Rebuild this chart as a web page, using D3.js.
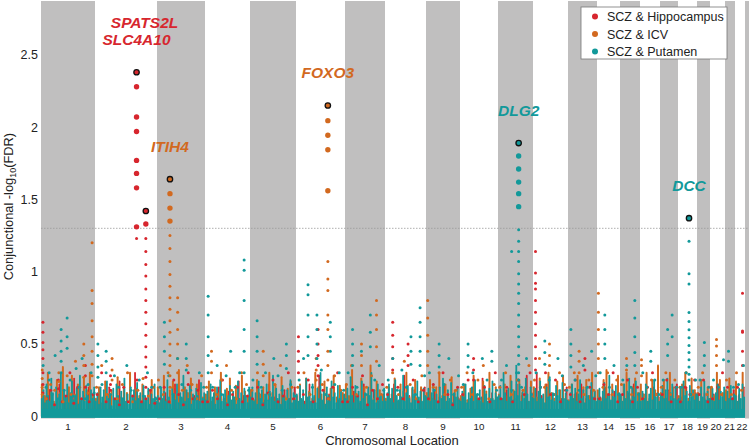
<!DOCTYPE html>
<html><head><meta charset="utf-8">
<script src="https://cdn.jsdelivr.net/npm/d3@7/dist/d3.min.js"></script>
<style>body{margin:0;background:#fff}svg{display:block;font-family:Arial,"Liberation Sans",Helvetica,sans-serif}</style>
</head><body><svg id="c" width="750" height="447"></svg>
<script>
// ---------------- DATA ----------------
const chromosomes = ["1","2","3","4","5","6","7","8","9","10","11","12","13","14","15","16","17","18","19","20","21","22"];
// relative chromosome widths on the axis (SNP count units)
const chromWeight = [54,62,48,45,46,49,40,41,34,38,35,35,29,23,20,20,18,19,13,15,10,10];
const tailWeight = 4;
const seriesNames = ["SCZ & Hippocampus","SCZ & ICV","SCZ & Putamen"];
const seriesColors = ["#d7262e","#d2691f","#12999a"];
const yTicks = [0,0.5,1,1.5,2,2.5];
const threshold = 1.3;
const tealBase = 0.05;

// background points per chromosome; a nested array = several SNPs at the same locus
const hippocampus = [
 [[.65,.58,.51,.46,.40,.30,.22,.16],.12,.18,.08,[.25,.19],.1,.14,.3,.09,.2,.12,[.35,.28,.2],.1,.15],
 [.15,.3,.1,[.28,.22,.18],.12,.08,.2,.1,.14,.25,.1,.12,.18,.09],
 [.12,.2,.1,.25,.15,.08,[.3,.22],.12,.18,.1],
 [.1,.18,.12,.25,.08,.15,.2,.1,.14],
 [.12,.2,.08,.16,.25,.1,.14,.3,.12],
 [[.55,.45,.38,.3],.15,.25,.1,[.6,.5,.42,.35,.28],.18,.12,.2,.3,.1],
 [.1,.2,.14,.28,.08,.18,.12,.22],
 [.15,[.65,.56,.48,.4,.32],.2,.12,[.5,.42,.35],.25,.1,.18],
 [.12,.22,.1,.3,.15,.08,.2],
 [.15,.25,[.4,.32,.25],.12,.2,.1,.3],
 [.12,.2,.1,.25,.15,.3],
 [[1.14,.99,.92,.88,.8,.72,.64,.56,.48,.4,.32],.2,.3,.15,.25,.1,.18],
 [.15,.25,.1,[.4,.32],.2,.12],
 [.12,.22,.15,.3,.1],
 [.15,.25,.1,.2],
 [.12,.2,.3,.15],
 [.15,.25,.1,.2],
 [.1,.2,.15,.25],
 [.15,.25,.1],
 [.12,.2,.3],
 [.2,.12],
 [.2,[.85,.59,.58,.45,.35]]
];
const icv = [
 [[.32,.26,.2,.15],.12,.22,.18,[.3,.24],.1,.28,.15,.38,.2,[.5,.42,.35,.27],.16,[1.2,.87,.78,.66,.55,.45,.36,.28]],
 [.2,.35,.15,[.4,.32,.25],.12,.22,.3,.1,.18,.26,.14,.2],
 [.25,.15,.3,.2,[.82,.72,.6,.5,.4,.3],.18,.35,.22,.12,.28],
 [.2,[.45,.38,.3],.15,.25,.35,.18,.12,.3,.22],
 [.18,.3,[.45,.36,.28],.15,.22,.35,.12,.2],
 [.2,.3,.15,[.4,.32,.25],.22,.12,.28,.18],
 [.22,.35,.15,[.5,.42,.35],.2,.28,[.8,.7,.6,.48,.38],.15],
 [.2,.3,.15,.38,.22,.12,.28],
 [[.8,.68,.56,.45,.35],.2,.3,.15,.25,.18],
 [.2,.3,.15,.25,.35,.12,.22],
 [.2,.3,.15,.25,.18,.35],
 [.25,.4,.2,[.5,.42,.35],.15,.3,.22],
 [.2,.3,[.45,.38,.3],.15,.25,.18],
 [[.85,.72,.6,.5,.4,.3],.2,.3,.15,.25],
 [.22,[.4,.32],.15,.3],
 [[.39,.35,.28],.2,.25,.15],
 [.2,.3,.15,.25],
 [.2,.3,.15],
 [.2,.3,.15],
 [.2,[.53,.485,.42,.35],.15],
 [.25,.15],
 [.3,.18]
];
const putamen = [
 [.35,.2,[.3,.25],.15,.42,.12,[.6,.52,.45,.38,.3],.18,[.68,.55,.47],.25,.14,.33,.2,.4,.12,.22,.3,.16],
 [[.5,.42,.34,.27],.22,[.45,.38,.3],.15,.28,.2,.12,.35,.18,.1,.25,.14,.3,.2,.12],
 [.2,[.65,.55,.45,.36],.28,.15,.4,.22,[.5,.4,.32],.18,.12,.3,.2],
 [[.83,.7,.55,.42,.3],.2,.35,.15,.28,.45,.2,.3,[1.08,1.01,.8,.6,.45,.3],.18],
 [.25,[.66,.55,.45,.36],.2,.3,.15,.4,.28,.18,[.5,.42,.33],.22,.14],
 [.25,.4,[.91,.84,.7,.55,.42],.2,[.7,.6,.5,.4],.32,.15,[.65,.55,.45],.22,.3,.18],
 [.3,[.6,.5,.42,.35],.2,.45,.15,[.7,.58,.48],.25,.35,.18],
 [.25,.4,.18,.32,.2,[.55,.45,.36],.15,[.75,.65,.55,.45,.35],.28],
 [.3,.18,[.5,.42,.34],.22,.4,.15,.28],
 [.22,[.5,.42,.34],.3,.15,.4,.25,[.45,.38],.18],
 [.25,.35,.18,.3,.2,.4,.15],
 [.3,.2,[.52,.44,.36],.25,.15,.4,.28,.18],
 [[.6,.5,.42,.34],.25,.18,.35,.2,.45,.28],
 [.3,[.7,.6,.5,.4],.2,.35,.15],
 [.25,.35,.2,[.8,.68,.55,.44,.35],.15],
 [.3,.2,[.45,.38],.25,.15],
 [.25,[.6,.5,.42],[.7,.55],.2],
 [.2,.3,.15,.25],
 [.25,[.51,.42,.35],.2],
 [.25,.2,.39],
 [[.45,.38],.2],
 [.22,.35]
];
// dense low-level SNP stacks (drawn as spikes from 0)
const hippocampusSpikes = [
 [.12,.18,.08,.22,.1,.15,.26,.09,.14,.2,.11],
 [.14,.08,.2,.11,.24,.1,.16,.3,.12,.09,.18,.13],
 [.1,.16,.09,.22,.12,.18,.08,.14,.25,.11],
 [.13,.09,.2,.12,.17,.1,.24,.14,.09],
 [.09,.16,.11,.22,.13,.08,.18,.12,.2],
 [.16,.1,.22,.13,.28,.09,.15,.2,.11,.14],
 [.11,.17,.09,.22,.13,.18,.1,.15],
 [.13,.22,.1,.28,.14,.18,.09,.2],
 [.1,.17,.13,.22,.09,.15,.12],
 [.15,.1,.2,.12,.26,.09,.16,.13],
 [.12,.18,.1,.22,.14,.28,.16],
 [.3,.14,.22,.1,.18,.12,.2],
 [.1,.16,.22,.12,.18,.09],
 [.13,.2,.1,.17,.12],
 [.1,.16,.22,.12],
 [.15,.1,.2,.13],
 [.11,.18,.14,.22],
 [.13,.2,.1,.16],
 [.1,.16,.12],
 [.15,.22,.11],
 [.12,.18],
 [.14,.2]
];
const icvSpikes = [
 [.22,.14,.3,.18,.1,.25,.16,.34,.12,.2,.28,.15,.22,.1,.26,.18,.3,.14],
 [.12,.2,.09,.24,.15,.18,.1,.27,.13,.2,.16,.3,.11,.19,.14,.22,.1,.17,.25,.12],
 [.2,.14,.28,.11,.18,.24,.15,.32,.12,.2,.16,.26,.1,.22,.18,.13],
 [.15,.24,.1,.2,.16,.3,.12,.19,.26,.14,.21,.1,.28,.17,.13],
 [.18,.11,.25,.15,.2,.12,.3,.16,.22,.1,.27,.14,.19,.24,.12],
 [.14,.22,.11,.26,.17,.12,.3,.2,.15,.24,.1,.19,.28,.13,.21,.16],
 [.22,.14,.32,.17,.11,.26,.2,.15,.35,.12,.24,.18,.14],
 [.12,.2,.15,.26,.1,.22,.17,.3,.13,.19,.25,.11,.2,.16],
 [.16,.25,.12,.2,.3,.14,.22,.1,.27,.18,.13],
 [.14,.22,.11,.19,.28,.15,.1,.24,.17,.3,.12,.2],
 [.15,.11,.22,.14,.28,.18,.12,.25,.16,.2,.1,.24],
 [.2,.13,.26,.11,.22,.3,.16,.12,.24,.18,.28,.14],
 [.11,.22,.15,.28,.12,.2,.25,.14,.3,.17],
 [.18,.12,.25,.32,.15,.22,.11,.28],
 [.14,.22,.3,.12,.2,.26,.16],
 [.22,.15,.3,.12,.25,.18,.35],
 [.16,.25,.12,.3,.2,.14],
 [.14,.22,.3,.12,.26,.18],
 [.16,.25,.12,.2],
 [.2,.14,.3,.25,.16],
 [.18,.26,.12],
 [.24,.15,.3]
];
const putamenSpikes = [
 [.12,.18,.09,.22,.14,.1,.26,.16,.08,.2,.12,.15,.3,.1,.18,.13,.22,.09,.16,.24,.11,.14,.19,.08,.28,.12,.17,.1,.21,.14,.09,.18,.12,.2],
 [.1,.16,.08,.2,.13,.18,.09,.24,.12,.15,.07,.19,.11,.22,.14,.09,.17,.12,.26,.1,.15,.08,.2,.13,.18,.1,.23,.12,.16,.09,.21,.14,.11,.19,.08,.15,.12,.22,.1],
 [.14,.09,.2,.12,.17,.1,.25,.13,.08,.19,.15,.11,.22,.09,.16,.13,.28,.1,.18,.12,.21,.08,.15,.11,.19,.14,.1,.23,.12,.16],
 [.11,.17,.09,.22,.13,.16,.08,.2,.12,.25,.1,.15,.18,.09,.14,.21,.11,.17,.13,.08,.24,.12,.16,.1,.19,.14,.09,.2],
 [.13,.2,.1,.16,.08,.24,.12,.18,.09,.15,.22,.11,.17,.13,.28,.1,.19,.12,.15,.08,.21,.14,.1,.18,.12,.25,.09,.16,.11],
 [.15,.1,.21,.12,.18,.08,.26,.13,.16,.1,.22,.14,.09,.19,.12,.3,.11,.17,.08,.2,.14,.1,.24,.13,.16,.09,.21,.12,.18,.1,.15],
 [.12,.19,.1,.27,.14,.09,.21,.13,.17,.1,.24,.12,.16,.08,.2,.14,.3,.11,.18,.09,.22,.13,.15,.1,.19],
 [.1,.16,.22,.12,.19,.09,.25,.14,.11,.18,.13,.28,.1,.16,.21,.12,.09,.2,.15,.11,.24,.13,.17,.1,.19,.14],
 [.13,.19,.1,.16,.22,.11,.15,.09,.2,.12,.26,.14,.1,.18,.12,.23,.09,.16,.13,.2,.11],
 [.1,.17,.13,.22,.09,.16,.12,.2,.1,.25,.14,.11,.18,.13,.09,.21,.15,.1,.19,.12,.24,.11,.16,.13],
 [.14,.21,.12,.3,.16,.1,.19,.13,.24,.11,.17,.35,.14,.22,.1,.18,.12,.26,.15,.1,.2,.13],
 [.12,.19,.1,.17,.24,.12,.15,.09,.2,.13,.27,.11,.16,.1,.21,.14,.18,.09,.23,.12,.16,.11],
 [.1,.16,.22,.12,.19,.1,.15,.25,.12,.18,.09,.2,.14,.11,.23,.13,.17,.1],
 [.12,.19,.1,.17,.23,.12,.15,.28,.11,.18,.13,.21,.1,.16],
 [.15,.1,.22,.12,.17,.26,.11,.19,.13,.24,.1,.16],
 [.1,.17,.12,.22,.1,.15,.19,.11,.25,.13,.16,.1],
 [.14,.21,.12,.18,.26,.1,.16,.22,.12,.19,.11],
 [.12,.19,.1,.24,.14,.17,.1,.21,.13,.18,.11,.15],
 [.15,.1,.2,.13,.24,.11,.17,.12],
 [.12,.19,.1,.16,.22,.11,.17,.13,.2],
 [.1,.17,.12,.21,.11,.15],
 [.14,.1,.19,.12,.22,.13]
];
// significant loci: chromosome, relative position within chromosome, SNP values (first = lead when lead)
const peaks = [
 {s:0, chr:"2", at:0.67, lead:true, vals:[2.38,2.28,2.07,1.97,1.77,1.68,1.58,1.31,1.23]},
 {s:0, chr:"2", at:0.82, lead:true, vals:[1.42,1.33,1.23,1.14,1.05,0.97,0.88,0.80,0.72,0.64,0.56,0.48,0.41,0.34,0.27,0.20]},
 {s:1, chr:"3", at:0.27, lead:true, vals:[1.64,1.54,1.44,1.35,1.25,1.16,1.07,0.98,0.90,0.82,0.74,0.66,0.58,0.50,0.42,0.35,0.28,0.2]},
 {s:1, chr:"6", at:0.65, lead:true, vals:[2.15,2.045,1.944,1.844,1.56,1.07,0.95,0.87,0.7,0.6,0.45,0.35,0.25]},
 {s:2, chr:"11", at:0.59, lead:true, vals:[1.89,1.80,1.71,1.62,1.54,1.45,1.29,1.21,1.14,1.07,0.985,0.914,0.85,0.78,0.7,0.62,0.55,0.48,0.42,0.36,0.3,0.25]},
 {s:2, chr:"11", at:0.39, lead:false, vals:[1.14]},
 {s:2, chr:"18", at:0.58, lead:true, vals:[1.37,1.21,0.985,0.914,0.718,0.656,0.598,0.542,0.49,0.44,0.39,0.34,0.29,0.25]}
];
const geneLabels = [
 {name:"SPATS2L", s:0, chr:"2", at:0.67, v:2.38, line:2},
 {name:"SLC4A10", s:0, chr:"2", at:0.67, v:2.38, line:1},
 {name:"ITIH4", s:1, chr:"3", at:0.27, v:1.64, line:1},
 {name:"FOXO3", s:1, chr:"6", at:0.65, v:2.15, line:1},
 {name:"DLG2", s:2, chr:"11", at:0.59, v:1.89, line:1},
 {name:"DCC", s:2, chr:"18", at:0.58, v:1.37, line:1}
];

// ---------------- DRAW ----------------
const svg = d3.select("#c");
const total = d3.sum(chromWeight) + tailWeight;
const starts = chromWeight.map((w,i)=>d3.sum(chromWeight.slice(0,i)));
const x = d3.scaleLinear().domain([0,total]).range([41,749]);
const y = d3.scaleLinear().domain([-0.016,2.873]).range([418.5,1]);
const pos = (ci,frac)=>starts[ci]+frac*chromWeight[ci];
const ci = c=>chromosomes.indexOf(c);

// bands
svg.append("g").selectAll("rect").data(chromosomes.map((c,i)=>i).filter(i=>i%2===0))
 .join("rect").attr("x",i=>x(starts[i])).attr("width",i=>x(starts[i]+chromWeight[i])-x(starts[i]))
 .attr("y",y.range()[1]).attr("height",y.range()[0]-y.range()[1]).attr("fill","#c0bfbf");
svg.append("rect").attr("x",x(d3.sum(chromWeight))).attr("width",x(total)-x(d3.sum(chromWeight)))
 .attr("y",y.range()[1]).attr("height",y.range()[0]-y.range()[1]).attr("fill","#c0bfbf");

// threshold
svg.append("line").attr("x1",x(0)).attr("x2",x(total)).attr("y1",y(threshold)).attr("y2",y(threshold))
 .attr("stroke","#9a9a9a").attr("stroke-width",0.8).attr("stroke-dasharray","1.5,1.5");

// spikes (putamen drawn last so its dense floor stays on top, as in the source)
const spikeSets = [[hippocampusSpikes,0,0.75,1.8],[icvSpikes,1,0.3,2],[putamenSpikes,2,0.5,1.8]];
spikeSets.forEach(([arr,s,off,sw])=>{
  const d=[]; arr.forEach((list,i)=>list.forEach((v,j)=>d.push({x:pos(i,(j+off)/list.length),v})));
  svg.append("g").selectAll("line").data(d).join("line")
   .attr("x1",p=>x(p.x)).attr("x2",p=>x(p.x)).attr("y1",y(0)).attr("y2",p=>y(p.v))
   .attr("stroke",seriesColors[s]).attr("stroke-width",sw).attr("stroke-linecap","round");
});
// dense base of putamen SNPs
svg.append("rect").attr("x",x(0)).attr("width",x(d3.sum(chromWeight))-x(0))
 .attr("y",y(tealBase)).attr("height",y(-0.012)-y(tealBase)).attr("fill",seriesColors[2]);

// background points
const ptSets = [[hippocampus,0,0.5],[icv,1,0.3],[putamen,2,0.7]];
ptSets.forEach(([arr,s,off])=>{
  const d=[]; arr.forEach((list,i)=>list.forEach((e,j)=>{
    const xp=pos(i,(j+off)/list.length);
    (Array.isArray(e)?e:[e]).forEach(v=>d.push({x:xp,v}));
  }));
  svg.append("g").selectAll("circle").data(d).join("circle")
   .attr("cx",p=>x(p.x)).attr("cy",p=>y(p.v)).attr("r",p=>p.v>threshold?2.7:1.5)
   .attr("fill",seriesColors[s]);
});

// peaks
const pk=[]; peaks.forEach(p=>p.vals.forEach((v,k)=>pk.push({s:p.s,x:pos(ci(p.chr),p.at),v,lead:p.lead&&k===0})));
svg.append("g").selectAll("circle").data(pk).join("circle")
 .attr("cx",p=>x(p.x)).attr("cy",p=>y(p.v)).attr("r",p=>p.v>threshold?2.7:1.5)
 .attr("fill",p=>seriesColors[p.s]).attr("stroke",p=>p.lead?"#111":"none").attr("stroke-width",1.3);

// gene labels
svg.append("g").selectAll("text").data(geneLabels).join("text")
 .attr("x",g=>x(pos(ci(g.chr),g.at))+(g.line===2?8:0)).attr("y",g=>y(g.v)-27-(g.line-1)*17)
 .attr("text-anchor","middle").attr("font-size",15.5).attr("font-weight","bold").attr("font-style","italic")
 .attr("fill",g=>seriesColors[g.s]).text(g=>g.name);

// y axis labels
svg.append("g").selectAll("text").data(yTicks).join("text")
 .attr("x",38).attr("y",v=>y(v)).attr("dy","0.36em").attr("text-anchor","end")
 .attr("font-size",12.5).attr("fill","#222").text(v=>d3.format("~g")(v));
const yl = svg.append("text").attr("transform","translate(13,"+y(1.45)+") rotate(-90)")
 .attr("text-anchor","middle").attr("font-size",12.8).attr("fill","#222");
yl.append("tspan").text("Conjunctional -log");
yl.append("tspan").attr("font-size",9).attr("dy",3).text("10");
yl.append("tspan").attr("dy",-3).text("(FDR)");

// x axis labels (narrow chromosomes nudged apart so they stay legible)
const labelDx = {"19":-1,"20":-1.5,"21":-0.5,"22":2};
svg.append("g").selectAll("text").data(chromosomes).join("text")
 .attr("x",(c,i)=>x(pos(i,0.5))+(labelDx[c]||0)).attr("y",430).attr("text-anchor","middle")
 .attr("font-size",9.8).attr("fill","#222").text(c=>c);
svg.append("text").attr("x",392).attr("y",445).attr("text-anchor","middle")
 .attr("font-size",13).attr("fill","#222").text("Chromosomal Location");

// legend
const lg = svg.append("g").attr("transform","translate(581,7)");
lg.append("rect").attr("width",146).attr("height",52).attr("fill","#fff").attr("stroke","#777").attr("stroke-width",0.8);
seriesNames.forEach((n,i)=>{
  lg.append("circle").attr("cx",14).attr("cy",9.5+i*17.5).attr("r",3).attr("fill",seriesColors[i]);
  lg.append("text").attr("x",26).attr("y",9.5+i*17.5).attr("dy","0.36em").attr("font-size",12.5).attr("fill","#222").text(n);
});
</script></body></html>
